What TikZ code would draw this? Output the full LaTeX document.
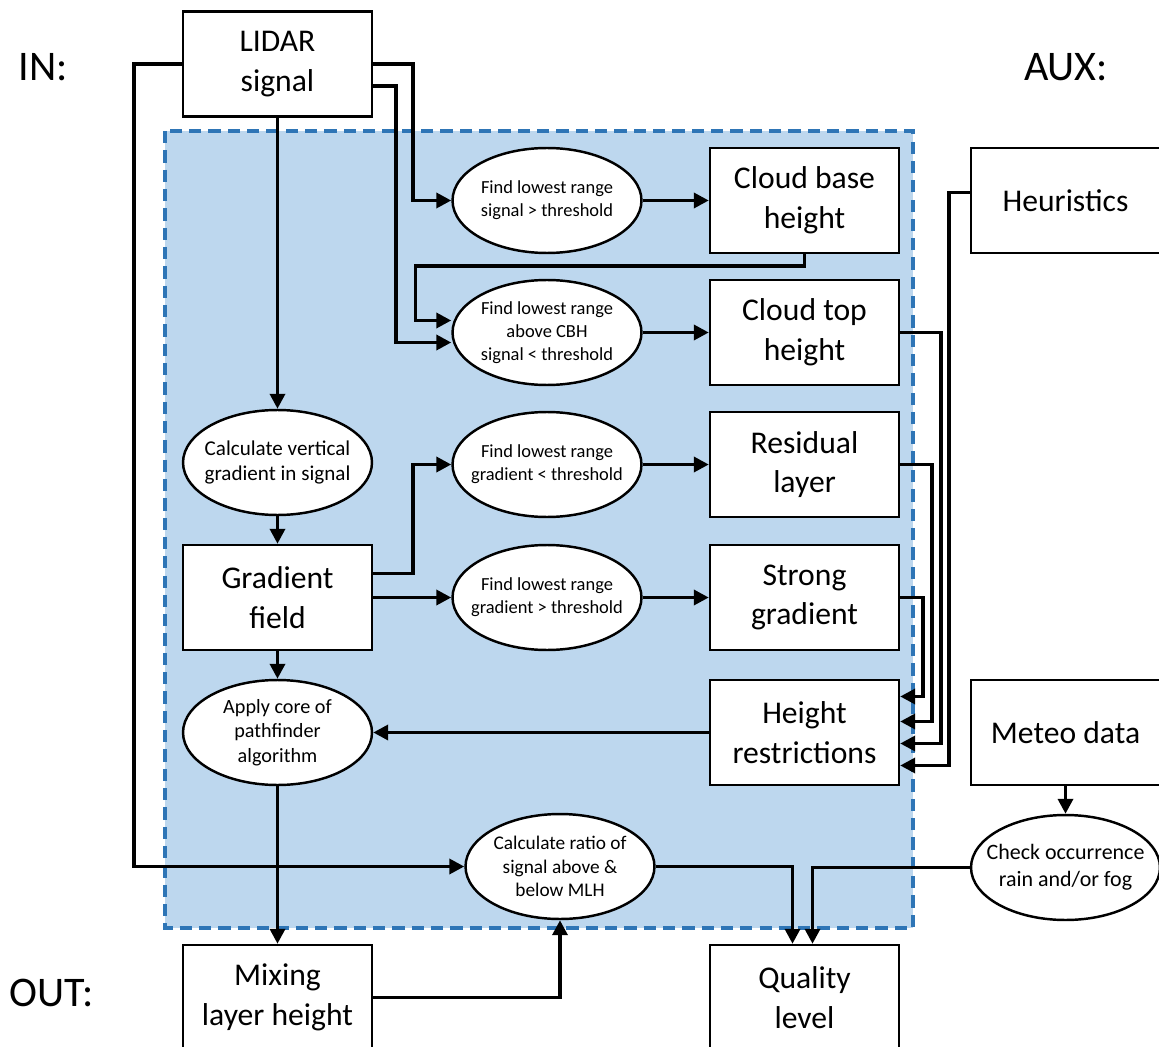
\documentclass[tikz,border=0pt]{standalone}
\usepackage{fontspec}
\setmainfont{Carlito}
\usetikzlibrary{shapes.geometric,arrows.meta,calc}
\definecolor{regionfill}{HTML}{BDD7EE}
\definecolor{regionline}{HTML}{2E75B6}
\tikzset{
  box/.style={draw,line width=1.4pt,fill=white,minimum width=3.78cm,minimum height=2.1cm,
    align=center,inner sep=2pt,font=\fontsize{18}{22.5}\selectfont},
  task/.style={ellipse,draw,line width=1.4pt,fill=white,minimum width=3.78cm,minimum height=2.1cm,
    align=center,inner xsep=-12pt,inner ysep=-4pt,font=\fontsize{10.5}{13}\selectfont},
  arr/.style={line width=2pt,-{Triangle[length=8.5pt,width=8.5pt]}},
  side/.style={font=\fontsize{24}{28}\selectfont}
}
\begin{document}
\begin{tikzpicture}[x=0.02cm,y=-0.02cm]
                \useasboundingbox (0,0) rectangle (1159,1047);
                \draw [fill=regionfill,draw=regionline,line width=2pt,dash pattern=on 7pt off 4pt] (165,131) rectangle (913,928);
                % labels
                \node [side] (in) at (43,67) {IN:};
                \node [side] (aux) at (1066,67) {AUX:};
                \node [side] (out) at (52,993) {OUT:};
                % boxes
                \node [box] (lidar) at (277.5,64) {LIDAR\\signal};
                \node [box] (cbh) at (804.5,200.5) {Cloud base\\height};
                \node [box] (cth) at (804.5,332.5) {Cloud top\\height};
                \node [box] (resid) at (804.5,464.5) {Residual\\layer};
                \node [box] (strong) at (804.5,597.5) {Strong\\gradient};
                \node [box] (hrestr) at (804.5,732.5) {Height\\restrictions};
                \node [box] (gradfld) at (277.5,597.5) {Gradient\\field};
                \node [box] (heur) at (1065.5,200.5) {Heuristics};
                \node [box] (meteo) at (1065.5,732.5) {Meteo data};
                \node [box] (mlh) at (277.5,997.5) {Mixing\\layer height};
                \node [box] (qual) at (804.5,997.5) {Quality\\level};
                % ellipses
                \node [task] (fcbh) at (547,200.5) {Find lowest range\\signal > threshold};
                \node [task] (fcth) at (547,332.5) {Find lowest range\\above CBH\\signal < threshold};
                \node [task] (fres) at (547,464.5) {Find lowest range\\gradient < threshold};
                \node [task] (fstr) at (547,597.5) {Find lowest range\\gradient > threshold};
                \node [task,font=\fontsize{12}{14.5}\selectfont] (calcgrad) at (277.5,462.5) {Calculate vertical\\gradient in signal};
                \node [task,font=\fontsize{11.5}{14}\selectfont] (pathf) at (277.5,732.5) {Apply core of\\pathfinder\\algorithm};
                \node [task,font=\fontsize{11}{13.5}\selectfont] (ratio) at (560,866.5) {Calculate ratio of\\signal above \&\\below MLH};
                \node [task,font=\fontsize{12.5}{15.5}\selectfont] (rainfog) at (1065.5,867.5) {Check occurrence\\rain and/or fog};
                % connectors
                \draw [arr] (lidar.south) -- (calcgrad.north);
                \draw [arr] (lidar.east) -- ++(40,0) |- (fcbh.west);
                \draw [arr] ($(lidar.east)+(0,22)$) -- ++(23,0) |- ($(fcth.west)+(0,10)$);
                \draw [arr] (cbh.south) -- ++(0,12) -| ($(fcth.west)+(-36,-12)$) -- ($(fcth.west)+(0,-12)$);
                \draw [arr] (lidar.west) -- ++(-48,0) |- (ratio.west);
                \draw [arr] (fcbh) -- (cbh);
                \draw [arr] (fcth) -- (cth);
                \draw [arr] (fres) -- (resid);
                \draw [arr] (fstr) -- (strong);
                \draw [arr] (calcgrad) -- (gradfld);
                \draw [arr] ($(gradfld.east)+(0,-24)$) -- ++(40,0) |- (fres.west);
                \draw [arr] (gradfld) -- (fstr);
                \draw [arr] (gradfld) -- (pathf);
                \draw [arr] (hrestr) -- (pathf);
                \draw [arr] (pathf) -- (mlh);
                \draw [arr] (mlh.east) -| (ratio.south);
                \draw [arr] (ratio.east) -| ($(qual.north)+(-12,0)$);
                \draw [arr] (rainfog.west) -| ($(qual.north)+(8,0)$);
                \draw [arr] (meteo) -- (rainfog);
                \draw [arr] ($(heur.west)+(0,-8)$) -- ++(-21,0) |- ($(hrestr.east)+(0,33)$);
                \draw [arr] (cth.east) -- ++(41,0) |- ($(hrestr.east)+(0,11)$);
                \draw [arr] (resid.east) -- ++(32,0) |- ($(hrestr.east)+(0,-11)$);
                \draw [arr] (strong.east) -- ++(23,0) |- ($(hrestr.east)+(0,-36)$);
            \end{tikzpicture}
\end{document}
